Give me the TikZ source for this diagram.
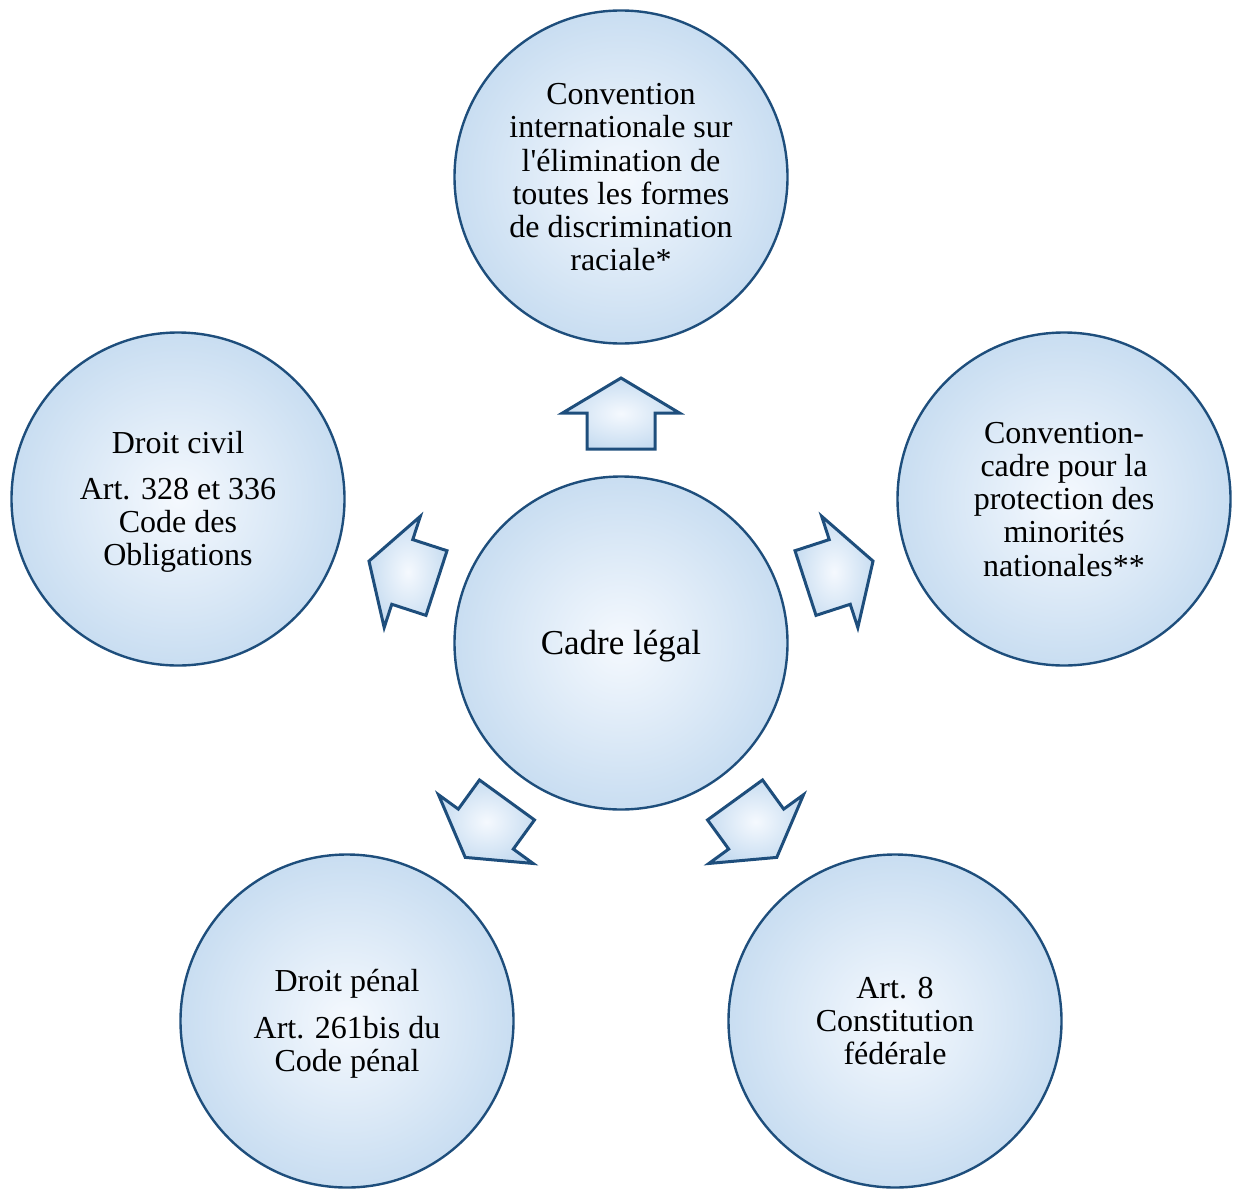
\documentclass[tikz,border=0pt]{standalone}
\usepackage{fontspec}
\setmainfont{Liberation Serif}[Ligatures=TeXOff]
\definecolor{bubin}{RGB}{245,249,254}
\definecolor{bubout}{RGB}{176,206,234}
\definecolor{bubrim}{RGB}{190,214,238}
\definecolor{bubline}{RGB}{30,78,124}
\pgfdeclareradialshading{bub}{\pgfpointorigin}{color(0bp)=(bubin); color(39bp)=(bubout); color(44bp)=(bubout); color(50bp)=(bubrim)}
\newcommand{\bubtext}[1]{\raisebox{-4pt}[\height][\depth]{\begin{tabular}{@{}c@{}}#1\end{tabular}}}
\tikzset{
  bubble/.style={circle, minimum size=333pt, inner sep=0pt, shading=bub, draw=bubline, line width=2.4pt, font=\fontsize{32}{33.2}\selectfont},
  blockarrow/.style={shading=bub, draw=bubline, line width=3pt, line join=miter}
}
\begin{document}
\begin{tikzpicture}[x=1pt,y=-1pt]
\useasboundingbox (0,0) rectangle (1233,1188);
\coordinate (c) at (621,643);
% block arrows
\foreach \ang/\nm in {90/au, 18/ar, -54/abr, -126/abl, 162/al}{
  \shade[blockarrow, shift={(c)}, rotate=\ang-90]
    (-34,-194) -- (-34,-230) -- (-58.5,-230) -- (0,-265) -- (58.5,-230) -- (34,-230) -- (34,-194) -- cycle;
}
\node[bubble, font=\fontsize{35}{36}\selectfont] (center) at (c) {\bubtext{Cadre légal}};
\node[bubble] (top) at (621,177) {\bubtext{Convention\\internationale sur\\l'élimination de\\toutes les formes\\de discrimination\\raciale*}};
\node[bubble] (right) at (1064,499) {\bubtext{Convention-\\cadre pour la\\protection des\\minorités\\nationales**}};
\node[bubble] (bright) at (895,1021) {\bubtext{Art. 8\\Constitution\\fédérale}};
\node[bubble] (bleft) at (347,1021) {\bubtext{Droit pénal\\[13pt]Art. 261bis du\\Code pénal}};
\node[bubble] (left) at (178,499) {\bubtext{Droit civil\\[13pt]Art. 328 et 336\\Code des\\Obligations}};
\end{tikzpicture}
\end{document}
